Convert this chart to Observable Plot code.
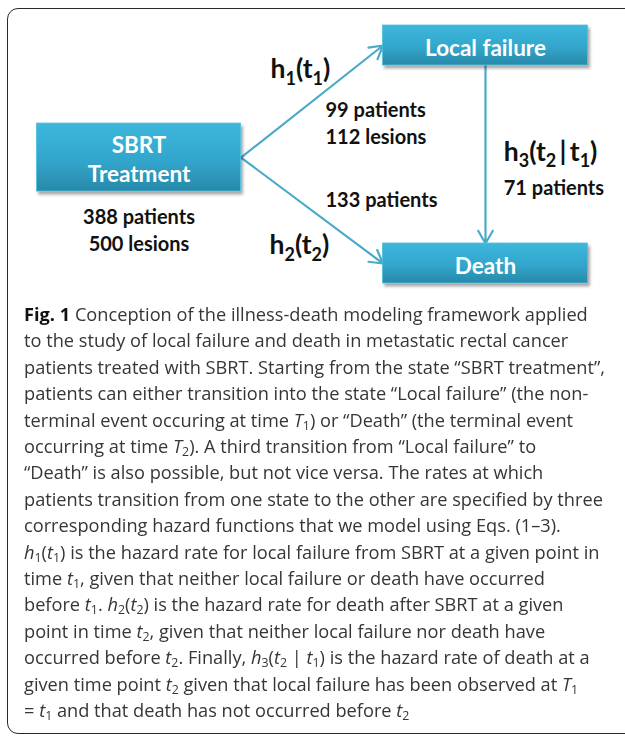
<!DOCTYPE html>
<html><head><meta charset="utf-8">
<script src="https://cdn.jsdelivr.net/npm/d3@7"></script>
<script src="https://cdn.jsdelivr.net/npm/@observablehq/plot@0.6"></script>
<style>
html,body{margin:0;padding:0;background:#fff;width:625px;height:736px;overflow:hidden;}
#frame{position:absolute;left:7px;top:8px;width:640px;height:726px;border:1.6px solid #2a2a2a;border-radius:11px;box-sizing:border-box;}
#chart{position:absolute;left:0;top:0;}
#caption{position:absolute;left:24px;top:301px;font-family:"Open Sans",sans-serif;font-size:18px;line-height:26.4px;color:#363636;transform-origin:0 0;}
#caption div{white-space:nowrap;}
#caption b{color:#111;font-weight:700;}
#caption sub{font-size:68%;vertical-align:-0.22em;line-height:0;}
</style></head><body>
<div id="frame"></div>
<div id="chart"></div>
<div id="caption"></div>
<script>
// ---- data ----
const states = ["SBRT Treatment", "Local failure", "Death"];
const statePatients = [388, null, null];
const stateLesions = [500, null, null];
const transFrom = ["SBRT Treatment", "SBRT Treatment", "Local failure"];
const transTo = ["Local failure", "Death", "Death"];
const hazards = ["h1(t1)", "h2(t2)", "h3(t2|t1)"];
const transPatients = [99, 133, 71];
const transLesions = [112, null, null];
const captionLines = [
  "<b>Fig. 1</b> Conception of the illness-death modeling framework applied",
  "to the study of local failure and death in metastatic rectal cancer",
  "patients treated with SBRT. Starting from the state “SBRT treatment”,",
  "patients can either transition into the state “Local failure” (the non-",
  "terminal event occuring at time <i>T</i><sub>1</sub>) or “Death” (the terminal event",
  "occurring at time <i>T</i><sub>2</sub>). A third transition from “Local failure” to",
  "“Death” is also possible, but not vice versa. The rates at which",
  "patients transition from one state to the other are specified by three",
  "corresponding hazard functions that we model using Eqs. (1–3).",
  "<i>h</i><sub>1</sub>(<i>t</i><sub>1</sub>) is the hazard rate for local failure from SBRT at a given point in",
  "time <i>t</i><sub>1</sub>, given that neither local failure or death have occurred",
  "before <i>t</i><sub>1</sub>. <i>h</i><sub>2</sub>(<i>t</i><sub>2</sub>) is the hazard rate for death after SBRT at a given",
  "point in time <i>t</i><sub>2</sub>, given that neither local failure nor death have",
  "occurred before <i>t</i><sub>2</sub>. Finally, <i>h</i><sub>3</sub>(<i>t</i><sub>2</sub> | <i>t</i><sub>1</sub>) is the hazard rate of death at a",
  "given time point <i>t</i><sub>2</sub> given that local failure has been observed at <i>T</i><sub>1</sub>",
  "= <i>t</i><sub>1</sub> and that death has not occurred before <i>t</i><sub>2</sub>"
];

// ---- layout (diagram geometry, separate from data) ----
const layout = {
  "SBRT Treatment": {col: 0, row: 0.514, w: 204, h: 68, label: "SBRT\nTreatment", labelDy: 1},
  "Local failure": {col: 1, row: 0, w: 205, h: 40, label: "Local failure", labelDy: 1},
  "Death": {col: 1, row: 1, w: 205, h: 40, label: "Death", labelDy: 1}
};
const hazardOffset = [[-41.5, -31.7], [-42.5, 35.3], [18.25, -2.2]];
const countOffset = [[13.5, 20.3], [13.5, -12.5], [18.25, 32]];

const xOpt = {domain: [0, 1], range: [138.5, 485]};
const yOpt = {domain: [0, 1], range: [45, 263]};
const X = Plot.scale({x: xOpt}), Y = Plot.scale({y: yOpt});
const ox = (v, px) => X.invert(X.apply(v) + px);
const oy = (v, px) => Y.invert(Y.apply(v) + px);

const nodes = states.map((s, i) => ({state: s, patients: statePatients[i], lesions: stateLesions[i], ...layout[s]}));
const trans = transFrom.map((f, i) => {
  const a = layout[f], b = layout[transTo[i]];
  let x1, y1, x2, y2;
  if (a.col === b.col) { x1 = a.col; x2 = b.col; y1 = oy(a.row, a.h / 2); y2 = oy(b.row, -b.h / 2); }
  else { x1 = ox(a.col, a.w / 2); y1 = a.row; x2 = ox(b.col, -b.w / 2); y2 = b.row; }
  return {i, from: f, to: transTo[i], hazard: hazards[i], patients: transPatients[i], lesions: transLesions[i],
          x1, y1, x2, y2, mx: (x1 + x2) / 2, my: (y1 + y2) / 2};
});
const countText = d => `${d.patients} patients` + (d.lesions != null ? `\n${d.lesions} lesions` : "");

const svg = Plot.plot({
  width: 625, height: 300, margin: 0,
  x: {...xOpt, axis: null}, y: {...yOpt, axis: null},
  style: {overflow: "visible", background: "transparent"},
  marks: [
    Plot.arrow(trans, {x1: "x1", y1: "y1", x2: "x2", y2: "y2", stroke: "#4aabc8", strokeWidth: 2.2, headLength: 10, headAngle: 60}),
    Plot.rect(nodes, {x1: d => ox(d.col, -d.w / 2), x2: d => ox(d.col, d.w / 2), y1: d => oy(d.row, -d.h / 2), y2: d => oy(d.row, d.h / 2), fill: "#33a9cf"}),
    Plot.text(nodes, {x: "col", y: d => oy(d.row, d.labelDy), text: "label", fill: "white", fontSize: 22.5, fontWeight: "bold", fontFamily: "Lato", lineHeight: 1.25}),
    Plot.text(nodes.filter(d => d.patients != null), {x: "col", y: d => oy(d.row, 71.3), text: countText, fill: "#111", fontSize: 20, fontWeight: "bold", fontFamily: "Lato", lineHeight: 1.35}),
    Plot.text(trans, {x: d => ox(d.mx, countOffset[d.i][0]), y: d => oy(d.my, countOffset[d.i][1]), text: countText, textAnchor: "start", fill: "#111", fontSize: 20, fontWeight: "bold", fontFamily: "Lato", lineHeight: 1.35}),
    Plot.text(trans, {x: d => ox(d.mx, hazardOffset[d.i][0]), y: d => oy(d.my, hazardOffset[d.i][1]), text: "hazard", textAnchor: "start", fill: "#111", fontSize: 26.5, fontWeight: "bold", fontFamily: "Lato"})
  ]
});
document.getElementById("chart").appendChild(svg);

// styling: gradient + shadow on the state boxes
const s = d3.select(svg);
const defs = s.insert("defs", ":first-child");
const g = defs.append("linearGradient").attr("id", "boxGrad").attr("x1", 0).attr("y1", 0).attr("x2", 0).attr("y2", 1);
g.append("stop").attr("offset", "0%").attr("stop-color", "#3db7dc");
g.append("stop").attr("offset", "55%").attr("stop-color", "#32a6cc");
g.append("stop").attr("offset", "100%").attr("stop-color", "#2989a9");
const f = defs.append("filter").attr("id", "shadow").attr("x", "-10%").attr("y", "-20%").attr("width", "130%").attr("height", "160%");
f.append("feDropShadow").attr("dx", 2).attr("dy", 3).attr("stdDeviation", 1.8).attr("flood-color", "#000").attr("flood-opacity", 0.35);
s.selectAll('g[aria-label="rect"] rect').attr("fill", "url(#boxGrad)").attr("stroke", "#52bfdf").attr("stroke-width", 0.8).attr("filter", "url(#shadow)");

// subscripts in the hazard labels (last text mark)
const textGroups = s.selectAll('g[aria-label="text"]').nodes();
d3.select(textGroups[textGroups.length - 1]).selectAll("text").each(function () {
  const str = this.textContent.replace("|", "\u2009|\u2009");
  this.textContent = "";
  let cur = null, curSub = false;
  for (const c of str) {
    const isSub = /\d/.test(c);
    if (!cur || isSub !== curSub) {
      cur = document.createElementNS("http://www.w3.org/2000/svg", "tspan");
      if (isSub) { cur.setAttribute("font-size", "18px"); cur.setAttribute("dy", "6.5"); }
      else if (curSub) { cur.setAttribute("dy", "-6.5"); }
      this.appendChild(cur);
      curSub = isSub;
    }
    cur.textContent += c;
  }
});

// caption
const cap = document.getElementById("caption");
cap.innerHTML = captionLines.map(l => `<div><span>${l}</span></div>`).join("");
const maxW = Math.max(...[...cap.querySelectorAll("span")].map(e => e.getBoundingClientRect().width));
cap.style.transform = `scaleX(${581 / maxW})`;
</script></body></html>
